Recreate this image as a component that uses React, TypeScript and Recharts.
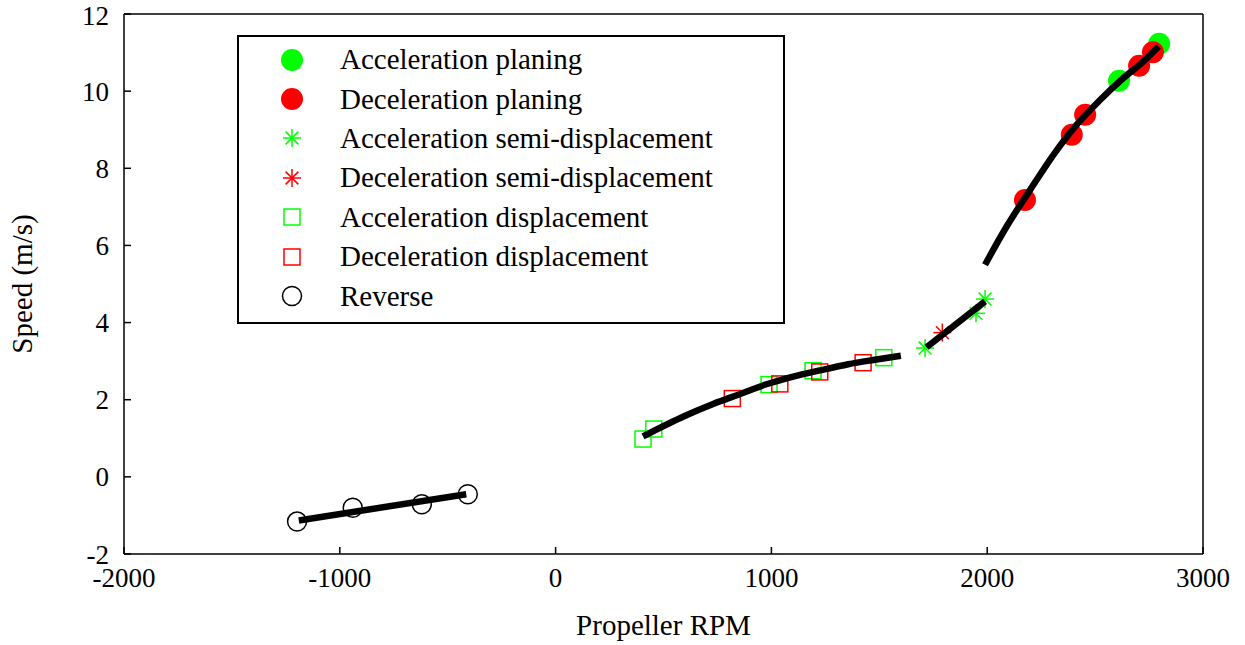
import React from "react";
import { ScatterChart, Scatter, XAxis, YAxis, Legend } from "recharts";

// values (propeller rpm, speed m/s)
const accPlaningRpm = [2611, 2797];
const accPlaningSpeed = [10.27, 11.23];
const decPlaningRpm = [2175, 2392, 2454, 2704, 2768];
const decPlaningSpeed = [7.18, 8.87, 9.39, 10.66, 11.01];
const accSemiRpm = [1712, 1948, 1990];
const accSemiSpeed = [3.34, 4.24, 4.61];
const decSemiRpm = [1792];
const decSemiSpeed = [3.74];
const accDispRpm = [405, 455, 989, 1193, 1521];
const accDispSpeed = [0.98, 1.24, 2.39, 2.75, 3.09];
const decDispRpm = [819, 1039, 1224, 1425];
const decDispSpeed = [2.03, 2.41, 2.72, 2.96];
const reverseRpm = [-1198, -940, -620, -407];
const reverseSpeed = [-1.16, -0.8, -0.71, -0.45];

// fitted curves (black)
const fitReverseRpm = [-1190, -414];
const fitReverseSpeed = [-1.13, -0.45];
const fitDispRpm = [405, 598, 730, 846, 977, 1101, 1224, 1356, 1472, 1600];
const fitDispSpeed = [1.05, 1.58, 1.89, 2.13, 2.4, 2.6, 2.76, 2.92, 3.03, 3.14];
const fitSemiRpm = [1719, 1990];
const fitSemiSpeed = [3.36, 4.55];
const fitPlaningRpm = [1990, 2090, 2199, 2307, 2407, 2523, 2631, 2724, 2794];
const fitPlaningSpeed = [5.5, 6.49, 7.44, 8.35, 9.08, 9.77, 10.34, 10.77, 11.16];

const xTicks = [-2000, -1000, 0, 1000, 2000, 3000];
const yTicks = [-2, 0, 2, 4, 6, 8, 10, 12];

const legendLabels = [
  "Acceleration planing",
  "Deceleration planing",
  "Acceleration semi-displacement",
  "Deceleration semi-displacement",
  "Acceleration displacement",
  "Deceleration displacement",
  "Reverse",
];

const toPoints = (xs: number[], ys: number[]) => xs.map((x, i) => ({ x, y: ys[i] }));

const GREEN = "#00ff00";
const RED = "#ff0000";
const FONT = '"Liberation Serif", "Times New Roman", Times, serif';
const TICK_FONT = 27;
const LABEL_FONT = 29;

const dot = (color: string) => (p: any) => <circle cx={p.cx} cy={p.cy} r={11} fill={color} />;
const ring = (p: any) => <circle cx={p.cx} cy={p.cy} r={9.5} fill="none" stroke="#000" strokeWidth={1.5} />;
const square = (color: string) => (p: any) => (
  <rect x={p.cx - 8} y={p.cy - 8} width={16} height={16} fill="none" stroke={color} strokeWidth={1.5} />
);
const star = (color: string) => (p: any) => {
  const s = 9;
  const d = 6.4;
  const { cx, cy } = p;
  return (
    <g stroke={color} strokeWidth={1.5}>
      <line x1={cx - s} y1={cy} x2={cx + s} y2={cy} />
      <line x1={cx} y1={cy - s} x2={cx} y2={cy + s} />
      <line x1={cx - d} y1={cy - d} x2={cx + d} y2={cy + d} />
      <line x1={cx - d} y1={cy + d} x2={cx + d} y2={cy - d} />
    </g>
  );
};
const noShape = () => <g />;

const markers = [dot(GREEN), dot(RED), star(GREEN), star(RED), square(GREEN), square(RED), ring];

const LegendBox = () => (
  <div
    style={{
      border: "2px solid #000",
      background: "#fff",
      width: 544,
      height: 282,
      boxSizing: "content-box",
      paddingTop: 3,
      fontFamily: FONT,
      fontSize: LABEL_FONT,
      lineHeight: 1,
    }}
  >
    {legendLabels.map((label, i) => (
      <div key={label} style={{ display: "flex", alignItems: "center", height: 39.4 }}>
        <svg width={100} height={30} style={{ marginLeft: 3, flex: "none" }}>
          {markers[i]({ cx: 50, cy: 15 })}
        </svg>
        <span style={{ marginLeft: -2, whiteSpace: "nowrap" }}>{label}</span>
      </div>
    ))}
  </div>
);

const lineStyle = { stroke: "#000", strokeWidth: 6.5 };
const frame = { stroke: "#000", strokeWidth: 1.5 };

export default function App() {
  return (
    <div style={{ position: "absolute", left: 0, top: 0, background: "#fff" }}>
      <ScatterChart width={1245} height={645} margin={{ top: 13, right: 41, bottom: 0, left: 0 }}>
        <XAxis
          xAxisId="x"
          dataKey="x"
          type="number"
          domain={[-2000, 3000]}
          ticks={xTicks}
          allowDataOverflow
          height={91}
          tickSize={-7}
          tickMargin={21}
          tickLine={frame}
          axisLine={frame}
          tick={{ fill: "#000", fontSize: TICK_FONT, fontFamily: FONT }}
          label={{ value: "Propeller RPM", position: "insideBottom", offset: 10, fill: "#000", fontSize: LABEL_FONT, fontFamily: FONT }}
        />
        <XAxis
          xAxisId="xt"
          orientation="top"
          type="number"
          domain={[-2000, 3000]}
          ticks={xTicks}
          allowDataOverflow
          height={1}
          tick={false}
          tickSize={-7}
          tickLine={frame}
          axisLine={frame}
        />
        <YAxis
          yAxisId="y"
          dataKey="y"
          type="number"
          domain={[-2, 12]}
          ticks={yTicks}
          allowDataOverflow
          width={124}
          tickSize={-7}
          tickMargin={22}
          tickLine={frame}
          axisLine={frame}
          tick={{ fill: "#000", fontSize: TICK_FONT, fontFamily: FONT }}
          label={{
            content: (p: any) => {
              const vb = p.viewBox;
              const cx = vb.x + 22;
              const cy = vb.y + vb.height / 2;
              return (
                <text x={cx} y={cy} transform={`rotate(-90 ${cx} ${cy})`} textAnchor="middle" dominantBaseline="central" fill="#000" fontSize={LABEL_FONT} fontFamily={FONT}>
                  Speed (m/s)
                </text>
              );
            },
          }}
        />
        <YAxis
          yAxisId="yr"
          orientation="right"
          type="number"
          domain={[-2, 12]}
          ticks={yTicks}
          allowDataOverflow
          width={1}
          tick={false}
          tickSize={-7}
          tickLine={frame}
          axisLine={frame}
        />
        <Legend
          layout="vertical"
          verticalAlign="middle"
          align="center"
          wrapperStyle={{ left: 237, top: 35, width: "auto", height: "auto" }}
          content={() => <LegendBox />}
        />
        <Scatter xAxisId="x" yAxisId="y" data={toPoints(accPlaningRpm, accPlaningSpeed)} shape={markers[0]} isAnimationActive={false} legendType="none" />
        <Scatter xAxisId="x" yAxisId="y" data={toPoints(decPlaningRpm, decPlaningSpeed)} shape={markers[1]} isAnimationActive={false} legendType="none" />
        <Scatter xAxisId="x" yAxisId="y" data={toPoints(accSemiRpm, accSemiSpeed)} shape={markers[2]} isAnimationActive={false} legendType="none" />
        <Scatter xAxisId="x" yAxisId="y" data={toPoints(decSemiRpm, decSemiSpeed)} shape={markers[3]} isAnimationActive={false} legendType="none" />
        <Scatter xAxisId="x" yAxisId="y" data={toPoints(accDispRpm, accDispSpeed)} shape={markers[4]} isAnimationActive={false} legendType="none" />
        <Scatter xAxisId="x" yAxisId="y" data={toPoints(decDispRpm, decDispSpeed)} shape={markers[5]} isAnimationActive={false} legendType="none" />
        <Scatter xAxisId="x" yAxisId="y" data={toPoints(reverseRpm, reverseSpeed)} shape={markers[6]} isAnimationActive={false} legendType="none" />
        <Scatter xAxisId="x" yAxisId="y" data={toPoints(fitReverseRpm, fitReverseSpeed)} line={lineStyle} shape={noShape} isAnimationActive={false} legendType="none" />
        <Scatter xAxisId="x" yAxisId="y" data={toPoints(fitDispRpm, fitDispSpeed)} line={lineStyle} lineJointType="monotoneX" shape={noShape} isAnimationActive={false} legendType="none" />
        <Scatter xAxisId="x" yAxisId="y" data={toPoints(fitSemiRpm, fitSemiSpeed)} line={lineStyle} shape={noShape} isAnimationActive={false} legendType="none" />
        <Scatter xAxisId="x" yAxisId="y" data={toPoints(fitPlaningRpm, fitPlaningSpeed)} line={lineStyle} lineJointType="monotoneX" shape={noShape} isAnimationActive={false} legendType="none" />
      </ScatterChart>
    </div>
  );
}
